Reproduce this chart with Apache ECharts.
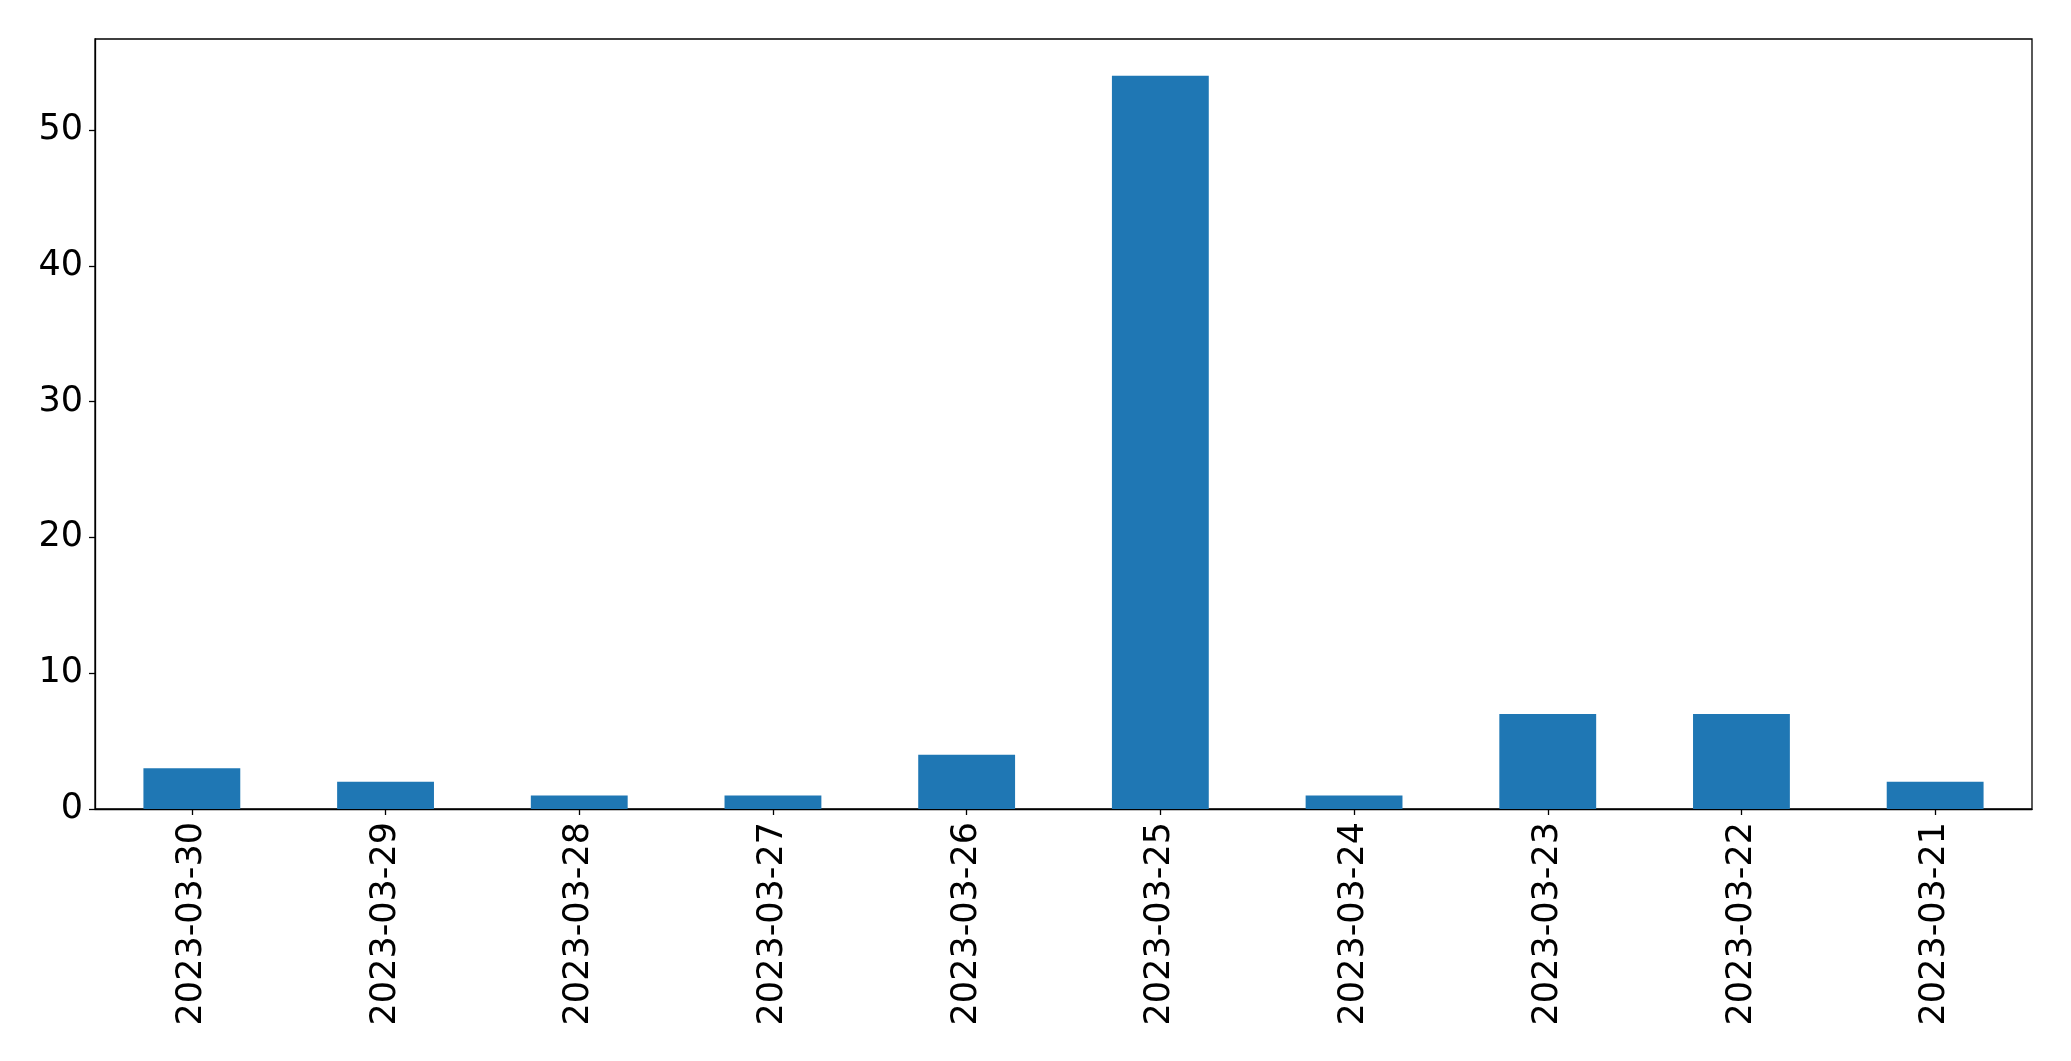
<!DOCTYPE html>
<html>
<head>
<meta charset="utf-8">
<script src="https://cdn.jsdelivr.net/npm/echarts@6/dist/echarts.min.js"></script>
<style>html,body{margin:0;padding:0;background:#fff;}#c{width:2071px;height:1061px;}</style>
</head>
<body>
<div id="c"></div>
<script>
const categories = ['2023-03-30','2023-03-29','2023-03-28','2023-03-27','2023-03-26','2023-03-25','2023-03-24','2023-03-23','2023-03-22','2023-03-21'];
const values = [3, 2, 1, 1, 4, 54, 1, 7, 7, 2];
const yTicks = [0, 10, 20, 30, 40, 50];

const chart = echarts.init(document.getElementById('c'), null, {renderer: 'canvas'});
const font = 'DejaVu Sans';
chart.setOption({
  animation: false,
  backgroundColor: '#fff',
  grid: {left: 95, right: 39, top: 39, bottom: 252, show: true, borderColor: '#000', borderWidth: 1.3, backgroundColor: 'transparent'},
  xAxis: {
    type: 'category',
    data: categories,
    axisLine: {show: true, lineStyle: {color: '#000', width: 1.3}},
    axisTick: {show: true, alignWithLabel: true, length: 6, lineStyle: {color: '#000', width: 1.3}},
    axisLabel: {rotate: 90, color: '#000', fontFamily: font, fontSize: 35, margin: 13, interval: 0},
    splitLine: {show: false}
  },
  yAxis: {
    type: 'value',
    min: 0,
    max: 56.7,
    interval: 10,
    axisLine: {show: true, lineStyle: {color: '#000', width: 1.3}},
    axisTick: {show: true, length: 6, lineStyle: {color: '#000', width: 1.3}},
    axisLabel: {color: '#000', fontFamily: font, fontSize: 35, margin: 12, showMaxLabel: false,
      formatter: v => yTicks.includes(v) ? String(v) : ''},
    splitLine: {show: false}
  },
  series: [{
    type: 'bar',
    data: values,
    barWidth: '50%',
    itemStyle: {color: '#1f77b4'}
  }]
});
</script>
</body>
</html>
